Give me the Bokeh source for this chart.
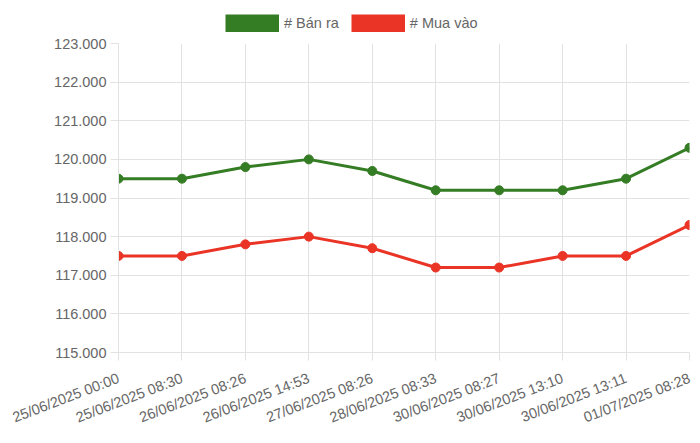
import math
from bokeh.plotting import figure
from bokeh.layouts import column
from bokeh.models import Range1d, FixedTicker, Legend, LegendItem, ColumnDataSource
from bokeh.embed import file_html
from bokeh.resources import INLINE

categories = ["25/06/2025 00:00", "25/06/2025 08:30", "26/06/2025 08:26", "26/06/2025 14:53",
              "27/06/2025 08:26", "28/06/2025 08:33", "30/06/2025 08:27", "30/06/2025 13:10",
              "30/06/2025 13:11", "01/07/2025 08:28"]
ban_ra = [119500, 119500, 119800, 120000, 119700, 119200, 119200, 119200, 119500, 120300]
mua_vao = [117500, 117500, 117800, 118000, 117700, 117200, 117200, 117500, 117500, 118300]
y_ticks = [115000, 116000, 117000, 118000, 119000, 120000, 121000, 122000, 123000]
series_names = ["# Bán ra", "# Mua vào"]
series_colors = ["#357d24", "#ea3426"]

FONT = "Liberation Sans"
TXT = "#666666"
GRID = "#e2e2e2"

xs = list(range(len(categories)))
series_values = [ban_ra, mua_vao]

# legend strip (its frame is aligned with the chart's frame by the column layout)
lg = figure(width=692, height=33, output_backend="svg", toolbar_location=None,
            x_range=Range1d(0, 1), y_range=Range1d(0, 1),
            x_axis_location=None, y_axis_location=None,
            min_border_left=118, min_border_right=3, min_border_top=0, min_border_bottom=0)
lg.grid.visible = False
lg.outline_line_color = None

items = []
for name, vals, col in zip(series_names, series_values, series_colors):
    # series data lies far outside this strip's range, so only the legend swatch shows
    r = lg.line(x=xs, y=vals, line_color=col, line_width=18)
    items.append(LegendItem(label=name, renderers=[r]))

legend = Legend(items=items, orientation="horizontal", location=(107, 1),
                glyph_width=54, glyph_height=18, label_height=18, label_standoff=5, spacing=12,
                padding=0, margin=0, border_line_color=None, background_fill_alpha=0,
                label_text_font=FONT, label_text_font_size="14.5px", label_text_color=TXT)
lg.add_layout(legend, "center")

p = figure(width=692, height=402, output_backend="svg", toolbar_location=None,
           x_range=Range1d(0, len(categories) - 1), y_range=Range1d(y_ticks[0], y_ticks[-1]),
           min_border_left=118, min_border_right=3, min_border_top=10, min_border_bottom=80)
p.outline_line_color = None

for ax in (p.xaxis[0], p.yaxis[0]):
    ax.axis_line_color = GRID
    ax.major_tick_line_color = GRID
    ax.major_tick_out = 8
    ax.major_tick_in = 0
    ax.minor_tick_line_color = None
    ax.major_label_text_font = FONT
    ax.major_label_text_font_size = "14.5px"
    ax.major_label_text_color = TXT
    ax.major_label_standoff = 4

p.xaxis.ticker = FixedTicker(ticks=xs)
p.xaxis.major_label_overrides = {i: c for i, c in enumerate(categories)}
p.xaxis.major_label_orientation = math.radians(21)
p.xaxis.major_label_standoff = 17

p.yaxis.ticker = FixedTicker(ticks=y_ticks)
p.yaxis.major_label_overrides = {v: f"{v:,}".replace(",", ".") for v in y_ticks}

p.xgrid.ticker = FixedTicker(ticks=xs)
p.ygrid.ticker = FixedTicker(ticks=y_ticks)
p.grid.grid_line_color = GRID
p.grid.grid_line_width = 1

for name, vals, col in reversed(list(zip(series_names, series_values, series_colors))):
    src = ColumnDataSource(dict(x=xs, y=vals))
    p.line("x", "y", source=src, line_color=col, line_width=3)
    p.scatter("x", "y", source=src, size=9, fill_color=col, line_color=col)

layout = column(lg, p, spacing=0)
open("out.html", "w").write(file_html(layout, INLINE))
